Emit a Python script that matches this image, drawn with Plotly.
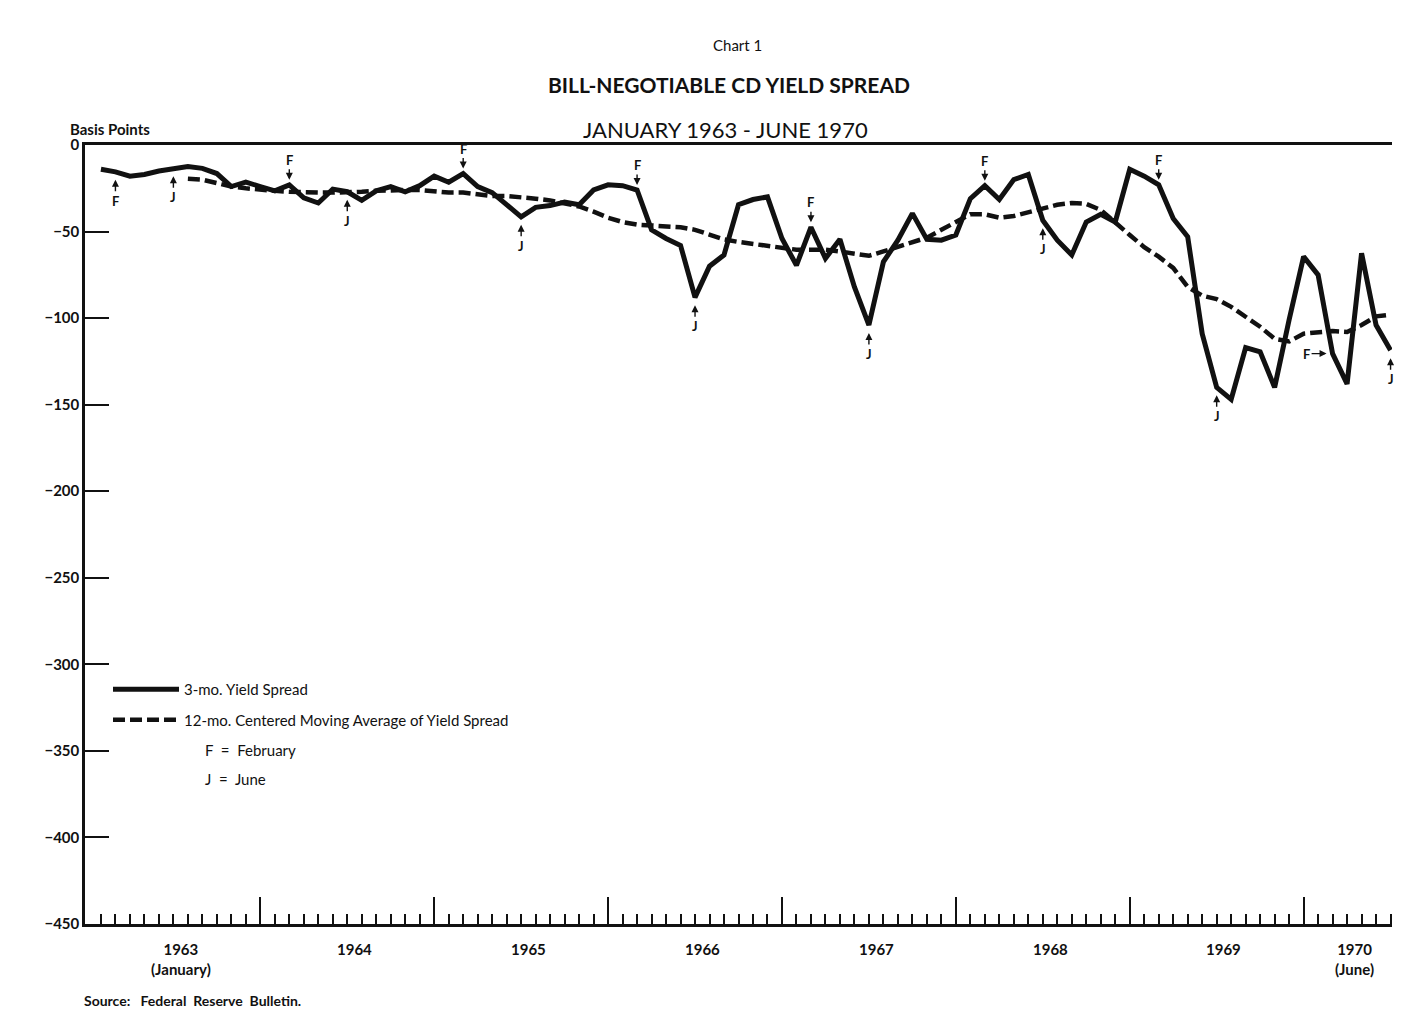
import plotly.graph_objects as go
import pandas as pd

# ---------------- data ----------------
months = pd.date_range("1963-01-01", "1970-06-01", freq="MS")
month_idx = list(range(len(months)))

# 3-month bill minus negotiable CD yield spread (basis points), Jan 1963 - Jun 1970
spread_3mo = [
    -14, -15.5, -18, -17, -15, -13.5, -12.5, -13.5, -16.5, -24, -21.5, -24,          # 1963
    -26.5, -23, -30.5, -33.5, -25.5, -27, -32, -26.5, -24, -27, -23.5, -18,          # 1964
    -21.5, -16.5, -24, -27.5, -34.5, -41.5, -36, -35, -33, -34.5, -26, -23,          # 1965
    -23.5, -26, -49, -54, -58, -88, -70, -63.5, -34.5, -31.5, -30, -54,              # 1966
    -69.5, -47.5, -65.5, -54.5, -82, -104, -67.5, -55, -39.5, -54.5, -55, -52,       # 1967
    -31, -23.5, -31.5, -20, -17, -43.5, -55, -63.5, -44.5, -40, -44.5, -14,          # 1968
    -18, -23, -42.5, -53, -109, -140, -147, -117, -119.5, -140, -101, -64.5,         # 1969
    -75, -120.5, -138, -62.5, -104, -118.5,                                          # 1970
]

# 12-month centered moving average of the spread
ma_12mo = [None] * 6 + [
    -19.5, -20, -22, -24, -25, -26,
    -26.5, -27, -27.5, -27.5, -27.5, -27.5, -27, -26.5, -26, -26, -26, -27,
    -27.5, -27.5, -28.5, -29.5, -29.5, -30, -31, -32, -33.5, -35.5, -38.5, -42,
    -44.5, -46, -46.5, -47, -47.5, -49, -52, -54.5, -56, -57, -58.5, -59.5,
    -60.5, -60.5, -60.5, -61.5, -63, -64, -61.5, -59, -56, -53.5, -49, -44.5,
    -40, -40, -42, -41, -39, -36.5, -34.5, -33.5, -34, -37.5, -45, -52,
    -59, -64.5, -71, -82, -87, -89, -93.5, -99, -105, -112, -113.5, -109,
    -108, -107.5, -108, -104, -99, -98,
]

years = ["1963", "1964", "1965", "1966", "1967", "1968", "1969", "1970"]
year_sublabels = {"1963": "(January)", "1970": "(June)"}

y_ticks = [0, -50, -100, -150, -200, -250, -300, -350, -400, -450]
y_ticktext = ["0" if v == 0 else "\u2212" + str(abs(v)) for v in y_ticks]

# February / June markers: (month, letter, side)
fj_marks = [
    ("1963-02", "F", "below"), ("1963-06", "J", "below"),
    ("1964-02", "F", "above"), ("1964-06", "J", "below"),
    ("1965-02", "F", "above"), ("1965-06", "J", "below"),
    ("1966-02", "F", "above"), ("1966-06", "J", "below"),
    ("1967-02", "F", "above"), ("1967-06", "J", "below"),
    ("1968-02", "F", "above"), ("1968-06", "J", "below"),
    ("1969-02", "F", "above"), ("1969-06", "J", "below"),
    ("1970-02", "F", "left"), ("1970-06", "J", "below"),
]

# ---------------- layout helpers (pixel -> paper) ----------------
L, R, T, B = 85, 1392, 145, 924
W, H = 1401, 1029


def px(x):
    return (x - L) / (R - L)


def py(y):
    return (B - y) / (B - T)


FONT = "Lato"
INK = "#111111"

fig = go.Figure()
fig.add_trace(go.Scatter(
    x=month_idx, y=spread_3mo, mode="lines", name="3-mo. Yield Spread",
    line=dict(color=INK, width=5), legendgroup="a",
))
fig.add_trace(go.Scatter(
    x=month_idx, y=ma_12mo, mode="lines",
    name="12-mo. Centered Moving Average of Yield Spread",
    line=dict(color=INK, width=4.5, dash="12px,5px"), legendgroup="b",
))

dec_idx = [k for k, m in enumerate(months) if m.month == 12]
# carrier for the long year-end ticks on an overlaid axis
fig.add_trace(go.Scatter(
    x=dec_idx, y=[None] * len(dec_idx), xaxis="x2", mode="lines",
    showlegend=False, hoverinfo="skip",
))

month_strs = [m.strftime("%Y-%m") for m in months]
annotations = []
for m, letter, side in fj_marks:
    i = month_strs.index(m)
    if side == "above":
        ax, ay, standoff = 0, -25, 5
    elif side == "below":
        ax, ay, standoff = 0, 29, 8
    else:
        ax, ay, standoff = -26, 0, 6
    annotations.append(dict(
        x=i, y=spread_3mo[i], xref="x", yref="y", text=letter,
        showarrow=True, ax=ax, ay=ay, arrowhead=2, arrowsize=1,
        arrowwidth=1.4, arrowcolor=INK, standoff=standoff,
        font=dict(family=FONT, size=13, color=INK, weight="bold"),
    ))

# year labels centred under each year's months
for yr in years:
    idx = [k for k, m in enumerate(months) if str(m.year) == yr]
    center = sum(idx) / len(idx)
    txt = yr
    if yr in year_sublabels:
        txt += "<br>" + year_sublabels[yr]
    annotations.append(dict(
        x=center, y=py(938), xref="x", yref="paper", text=txt, showarrow=False,
        yanchor="top", xanchor="center", align="center",
        font=dict(family=FONT, size=15, color=INK, weight="bold"),
    ))


def note(x, y, text, size, bold=False, xanchor="center"):
    return dict(
        x=px(x), y=py(y), xref="paper", yref="paper", text=text, showarrow=False,
        xanchor=xanchor, yanchor="middle",
        font=dict(family=FONT, size=size, color=INK, weight="bold" if bold else "normal"),
    )


annotations += [
    note(737, 45, "Chart 1", 15),
    note(729, 84, "BILL-NEGOTIABLE CD YIELD SPREAD", 21, bold=True),
    note(725, 129, "JANUARY 1963 - JUNE 1970", 22),
    note(68, 129, "Basis Points", 15, bold=True, xanchor="left"),
    note(203, 750, "F  =  February", 15, xanchor="left"),
    note(203, 779, "J  =  June", 15, xanchor="left"),
    note(82, 1000, "Source:   Federal  Reserve  Bulletin.", 14, bold=True, xanchor="left"),
]

fig.update_layout(
    width=W, height=H, autosize=False,
    margin=dict(l=L, r=W - R, t=T, b=H - B, pad=0),
    paper_bgcolor="white", plot_bgcolor="white",
    font=dict(family=FONT, color=INK),
    showlegend=True,
    legend=dict(
        x=px(108), y=py(673), xanchor="left", yanchor="top",
        bgcolor="rgba(0,0,0,0)", font=dict(family=FONT, size=15, color=INK),
        tracegroupgap=8, itemwidth=66,
    ),
    annotations=annotations,
    xaxis=dict(
        range=[-1.1, 89.1], showgrid=False, zeroline=False,
        showline=True, linecolor=INK, linewidth=3, mirror=True,
        tickmode="array", tickvals=month_idx, showticklabels=False,
        ticks="inside", ticklen=10, tickwidth=1.5, tickcolor=INK,
    ),
    xaxis2=dict(
        range=[-1.1, 89.1], overlaying="x", anchor="y", side="bottom",
        showgrid=False, zeroline=False, showline=False,
        tickmode="array", tickvals=dec_idx, showticklabels=False,
        ticks="inside", ticklen=27, tickwidth=2, tickcolor=INK,
    ),
    yaxis=dict(
        range=[-450, 0], showgrid=False, zeroline=False,
        showline=True, linecolor=INK, linewidth=2.5,
        tickmode="array", tickvals=y_ticks, ticktext=y_ticktext,
        ticks="inside", ticklen=24, tickwidth=2, tickcolor=INK,
        tickfont=dict(family=FONT, size=15, color=INK, weight="bold"),
    ),
)

fig.write_html("out.html", config={"displayModeBar": False},
               post_script="document.body.style.margin='0px';")
